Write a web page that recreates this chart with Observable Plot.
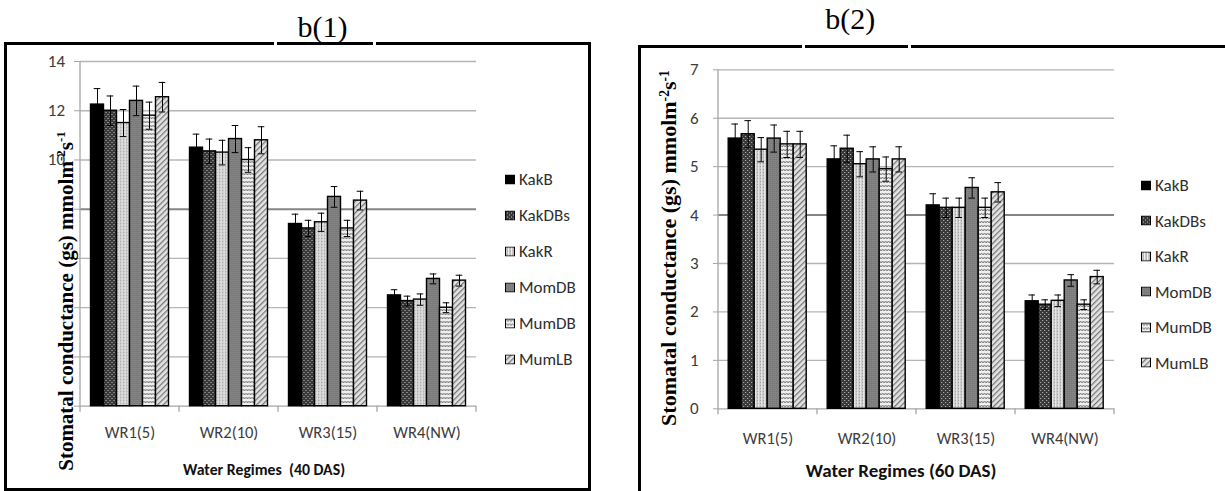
<!DOCTYPE html>
<html>
<head>
<meta charset="utf-8">
<script src="https://cdn.jsdelivr.net/npm/d3@7"></script>
<script src="https://cdn.jsdelivr.net/npm/@observablehq/plot@0.6"></script>
<style>
  body { margin: 0; background: #fff; }
  #page { position: relative; width: 1225px; height: 491px; overflow: hidden; background: #fff;
          font-family: Carlito, Lato, "Open Sans", sans-serif; }
  .box { position: absolute; box-sizing: border-box; border: 3px solid #000; }
  .gap { position: absolute; background: #fff; width: 3px; height: 6px; }
  .ptitle { position: absolute; font-family: "Liberation Serif", "Times New Roman", serif; font-size: 30px;
            line-height: 30px; transform: translateX(-50%); white-space: nowrap; color: #000; }
  .ytitle { position: absolute; font-family: "Liberation Serif", "Times New Roman", serif; font-weight: bold;
            white-space: nowrap; line-height: 1; color: #000; transform: translate(-50%, -50%) rotate(-90deg); }
  .ytitle sup { font-size: 0.62em; line-height: 0; vertical-align: 0.55em; }
  .xtitle { position: absolute; font-weight: bold; white-space: pre; line-height: 1; color: #111;
            transform: translate(-50%, -50%); }
  .chart { position: absolute; top: 0; }
  .legend { position: absolute; left: 0; top: 0; font-size: 17px; color: #2e2e2e; }
  .legend .row { position: absolute; display: flex; align-items: center; white-space: nowrap;
                 transform: translateY(-50%); }
  .legend svg { margin-right: 4px; display: block; }
</style>
</head>
<body>
<div id="page">
  <!-- bar fill patterns shared by both charts and their legends -->
  <svg width="0" height="0" style="position:absolute">
    <defs>
      <pattern id="p-kakdbs" width="4" height="4" patternUnits="userSpaceOnUse">
        <rect width="4" height="4" fill="#383838"/>
        <rect x="0" y="0" width="1" height="1" fill="#c4c4c4"/>
        <rect x="2" y="2" width="1" height="1" fill="#c4c4c4"/>
      </pattern>
      <pattern id="p-kakr" width="3" height="3" patternUnits="userSpaceOnUse">
        <rect width="3" height="3" fill="#c6c6c6"/>
        <rect x="0" width="1" height="3" fill="#efefef"/>
        <rect x="2" y="1" width="1" height="1" fill="#9c9c9c"/>
      </pattern>
      <pattern id="p-momdb" width="2" height="2" patternUnits="userSpaceOnUse">
        <rect width="2" height="2" fill="#7a7a7a"/>
        <rect width="1" height="1" fill="#8e8e8e"/>
      </pattern>
      <pattern id="p-mumdb" width="6" height="4" patternUnits="userSpaceOnUse">
        <rect width="6" height="4" fill="#efefef"/>
        <path d="M0,3 L1.5,1 L3,3 L4.5,1 L6,3" fill="none" stroke="#666" stroke-width="0.9"/>
      </pattern>
      <pattern id="p-mumlb" width="4" height="4" patternUnits="userSpaceOnUse" patternTransform="rotate(45)">
        <rect width="4" height="4" fill="#e4e4e4"/>
        <rect width="1.3" height="4" fill="#777"/>
      </pattern>
    </defs>
  </svg>

  <div class="box" style="left:4px; top:41.5px; width:586.5px; height:449px;"></div>
  <div class="gap" style="left:274.3px; top:39px;"></div>
  <div class="gap" style="left:373px; top:39px;"></div>
  <div class="ptitle" style="left:322.5px; top:11.6px;">b(1)</div>

  <div class="box" style="left:637.5px; top:44.5px; width:700px; height:500px;"></div>
  <div class="gap" style="left:802px; top:42px;"></div>
  <div class="gap" style="left:907.5px; top:42px;"></div>
  <div class="ptitle" style="left:850.3px; top:4.4px;">b(2)</div>
</div>

<script>
// Water regimes on the x axis and the six varieties within each regime
const regimes = ["WR1(5)", "WR2(10)", "WR3(15)", "WR4(NW)"];
const varieties = ["KakB", "KakDBs", "KakR", "MomDB", "MumDB", "MumLB"];

// Stomatal conductance (gs), mmol m-2 s-1, 40 DAS: rows = regimes, columns = varieties
const gs40 = [
  [12.25, 12.0, 11.5, 12.4, 11.8, 12.55],
  [10.5, 10.35, 10.3, 10.85, 10.0, 10.8],
  [7.4, 7.22, 7.47, 8.5, 7.22, 8.35],
  [4.5, 4.27, 4.33, 5.17, 4.0, 5.1]
];
const se40 = [
  [0.65, 0.6, 0.55, 0.6, 0.55, 0.6],
  [0.55, 0.5, 0.5, 0.55, 0.5, 0.55],
  [0.4, 0.33, 0.37, 0.42, 0.33, 0.38],
  [0.23, 0.2, 0.23, 0.2, 0.2, 0.22]
];

// Stomatal conductance (gs), 60 DAS
const gs60 = [
  [5.58, 5.67, 5.35, 5.58, 5.46, 5.46],
  [5.15, 5.37, 5.05, 5.15, 4.95, 5.15],
  [4.2, 4.15, 4.15, 4.56, 4.15, 4.47],
  [2.22, 2.15, 2.23, 2.65, 2.15, 2.72]
];
const se60 = [
  [0.3, 0.28, 0.25, 0.28, 0.27, 0.27],
  [0.28, 0.28, 0.26, 0.26, 0.25, 0.26],
  [0.24, 0.2, 0.2, 0.21, 0.2, 0.2],
  [0.13, 0.1, 0.12, 0.12, 0.1, 0.14]
];

const ticks40 = [0, 2, 4, 6, 8, 10, 12, 14];
const ticks60 = [0, 1, 2, 3, 4, 5, 6, 7];

// fill for each variety, in the same order as `varieties`
const fills = ["#000", "url(#p-kakdbs)", "url(#p-kakr)", "url(#p-momdb)", "url(#p-mumdb)", "url(#p-mumlb)"];

const page = document.getElementById("page");

function tidy(values, errors) {
  return regimes.flatMap((regime, i) =>
    varieties.map((variety, j) => ({regime, variety, gs: values[i][j], se: errors[i][j]})));
}

function panel(o) {
  const rows = tidy(o.values, o.errors);
  const yMax = o.ticks[o.ticks.length - 1];
  const chart = Plot.plot({
    width: o.width,
    height: 491,
    marginLeft: o.marginLeft,
    marginRight: o.marginRight,
    marginTop: o.marginTop,
    marginBottom: o.marginBottom,
    style: {background: "transparent", fontFamily: "Carlito, Lato, sans-serif", fontSize: "16px",
            maxWidth: "none", overflow: "visible"},
    fx: {domain: regimes, paddingInner: 0, paddingOuter: 0, label: null},
    x: {domain: varieties, paddingInner: 0, paddingOuter: 0.74, axis: null},
    y: {domain: [0, yMax], label: null},
    color: {domain: varieties, range: fills},
    marks: [
      Plot.gridY(o.ticks.filter((t) => t !== 0 && t !== o.darkGrid),
        {stroke: "#b5b5b5", strokeOpacity: 1, strokeWidth: 1.3}),
      Plot.gridY([o.darkGrid], {stroke: "#858585", strokeOpacity: 1, strokeWidth: 2}),
      Plot.ruleY([0], {stroke: "#a6a6a6", strokeWidth: 1.3}),
      Plot.axisY({ticks: o.ticks, tickSize: o.tickSize, tickPadding: o.tickPadding, label: null,
        fontSize: o.tickFont, tickFormat: (t) => (o.labelFrom <= t ? t : ""), stroke: "#a6a6a6", fill: "#3c3c3c"}),
      Plot.barY(rows, {fx: "regime", x: "variety", y: "gs", fill: "variety", stroke: "#000", strokeWidth: 1.4}),
      Plot.ruleX(rows, {fx: "regime", x: "variety", y1: (d) => d.gs - d.se, y2: (d) => d.gs + d.se,
        stroke: "#000", strokeWidth: 1}),
      Plot.tickY(rows, {fx: "regime", x: "variety", y: (d) => d.gs + d.se, stroke: "#000",
        insetLeft: 3.2, insetRight: 3.2}),
      Plot.tickY(rows, {fx: "regime", x: "variety", y: (d) => d.gs - d.se, stroke: "#000",
        insetLeft: 3.2, insetRight: 3.2}),
      Plot.axisFx({anchor: "bottom", tickSize: 0, tickPadding: o.fxPadding, label: null,
        fontSize: o.fxFont, fill: "#3c3c3c"})
    ]
  });

  // vertical axis line and the category separators below the baseline
  const fx = chart.scale("fx");
  const y = chart.scale("y");
  const edges = regimes.map((r) => fx.apply(r));
  edges.push(edges[edges.length - 1] + fx.bandwidth);
  const base = y.apply(0);
  const g = d3.select(chart).append("g").attr("stroke", "#a6a6a6").attr("stroke-width", 1.3);
  g.append("line").attr("x1", edges[0]).attr("x2", edges[0]).attr("y1", y.apply(yMax)).attr("y2", base + 6);
  g.selectAll(".sep").data(edges.slice(1)).join("line").attr("class", "sep")
    .attr("x1", (d) => d).attr("x2", (d) => d).attr("y1", base).attr("y2", base + 6);

  chart.classList.add("chart");
  chart.style.left = o.left + "px";
  page.appendChild(chart);

  // legend
  const legend = document.createElement("div");
  legend.className = "legend";
  varieties.forEach((v, i) => {
    const row = document.createElement("div");
    row.className = "row";
    row.style.left = o.legendX + "px";
    row.style.top = (o.legendY + i * o.legendStep) + "px";
    row.innerHTML = `<svg width="10" height="10"><rect x="0.5" y="0.5" width="9" height="9" fill="${fills[i]}" stroke="#000" stroke-width="1"/></svg><span>${v}</span>`;
    legend.appendChild(row);
  });
  page.appendChild(legend);

  // axis titles
  const yt = document.createElement("div");
  yt.className = "ytitle";
  yt.style.left = o.yTitleX + "px";
  yt.style.top = o.yTitleY + "px";
  yt.style.fontSize = o.yTitleSize + "px";
  yt.innerHTML = "Stomatal conductance (gs) mmolm<sup>-2</sup>s<sup>-1</sup>";
  page.appendChild(yt);

  const xt = document.createElement("div");
  xt.className = "xtitle";
  xt.style.left = o.xTitleX + "px";
  xt.style.top = o.xTitleY + "px";
  xt.style.fontSize = o.xTitleSize + "px";
  xt.textContent = o.xTitle;
  page.appendChild(xt);
}

panel({
  values: gs40, errors: se40, ticks: ticks40, labelFrom: 10, darkGrid: 8,
  left: 0, width: 480, marginLeft: 78.5, marginRight: 1.6, marginTop: 61, marginBottom: 85.3,
  tickSize: 6, tickPadding: 9.5, tickFont: 17, fxPadding: 20.5, fxFont: 16.5,
  legendX: 505, legendY: 179, legendStep: 36,
  yTitleX: 66.2, yTitleY: 300.5, yTitleSize: 21,
  xTitle: "Water Regimes  (40 DAS)", xTitleX: 264, xTitleY: 470, xTitleSize: 15.8
});

panel({
  values: gs60, errors: se60, ticks: ticks60, labelFrom: 0, darkGrid: 4,
  left: 640, width: 480, marginLeft: 76.8, marginRight: 3.9, marginTop: 69.3, marginBottom: 82.7,
  tickSize: 5, tickPadding: 14.8, tickFont: 17, fxPadding: 23.5, fxFont: 16.5,
  legendX: 1141, legendY: 185, legendStep: 35.5,
  yTitleX: 669.3, yTitleY: 247.5, yTitleSize: 22,
  xTitle: "Water Regimes (60 DAS)", xTitleX: 901, xTitleY: 470, xTitleSize: 19
});
</script>
</body>
</html>
